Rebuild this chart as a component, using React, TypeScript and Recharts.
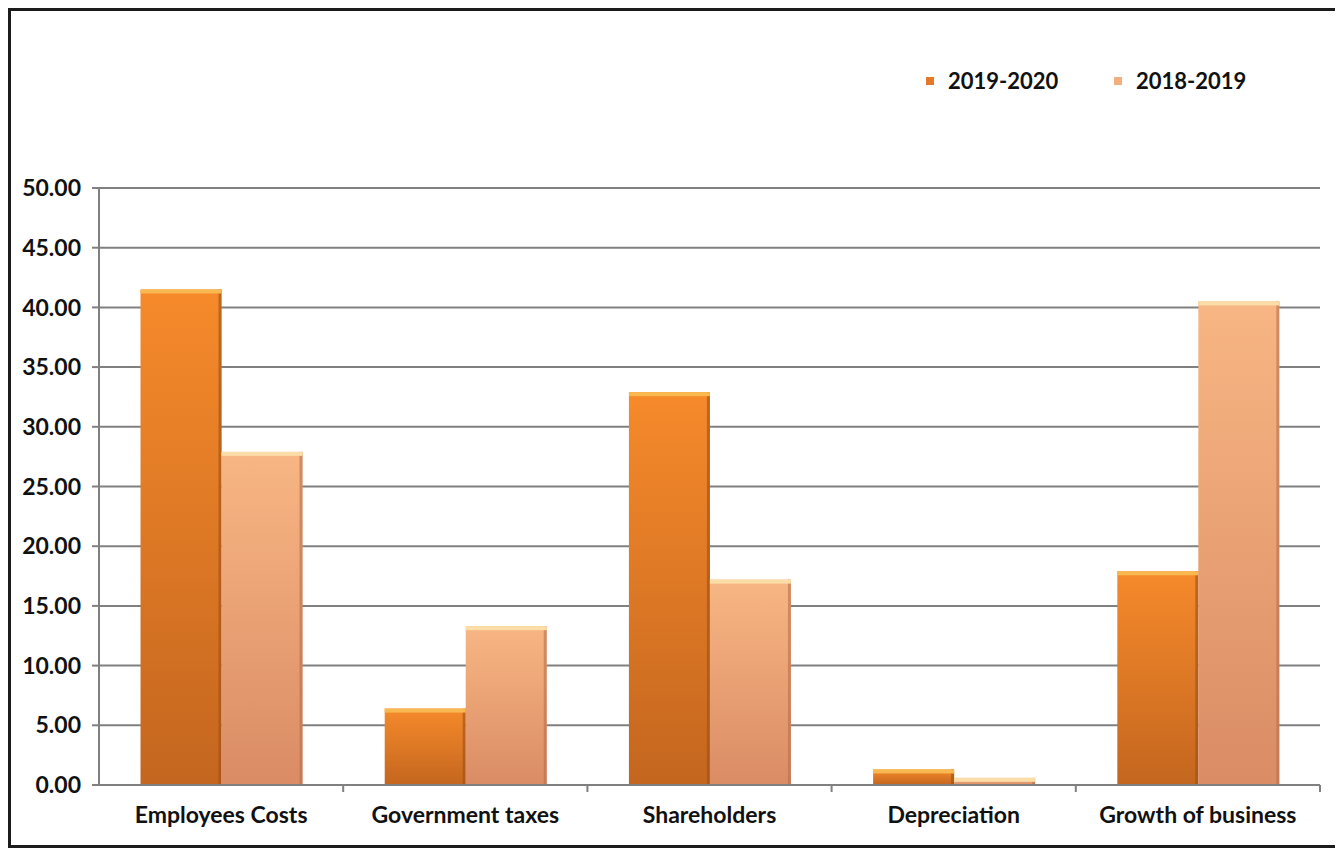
import React from "react";
import { BarChart, Bar, XAxis, YAxis, CartesianGrid, Legend } from "recharts";

const categories = ["Employees Costs", "Government taxes", "Shareholders", "Depreciation", "Growth of business"];
const values2019_2020 = [41.5, 6.4, 32.9, 1.3, 17.9];
const values2018_2019 = [27.9, 13.3, 17.2, 0.6, 40.5];
const yTicks = [0, 5, 10, 15, 20, 25, 30, 35, 40, 45, 50];

const data = categories.map((name, i) => ({
  name,
  y2019: values2019_2020[i],
  y2018: values2018_2019[i],
}));

const FONT = "Lato, 'Open Sans', sans-serif";
const AXIS = "#808080";
const TICK_GAP = 22;

function makeShape(grad: string, edge: string, top: string) {
  return (props: any) => {
    const { x, y, width, height } = props;
    if (!height || height <= 0) return <g />;
    const hl = Math.min(4, height);
    return (
      <g>
        <rect x={x} y={y} width={width} height={height} fill={`url(#${grad})`} />
        <rect x={x + width - 3} y={y} width={3} height={height} fill={edge} opacity={0.6} />
        <rect x={x} y={y} width={width} height={hl} fill={top} />
      </g>
    );
  };
}

// category label plus tick marks on the band boundaries
function CategoryTick(props: any) {
  const { x, y, payload, index } = props;
  const half = payload && payload.offset ? payload.offset : 0;
  const axisY = y - TICK_GAP;
  const last = index === categories.length - 1;
  return (
    <g>
      {half > 0 && index > 0 && (
        <line x1={x - half} x2={x - half} y1={axisY} y2={axisY + 7} stroke={AXIS} strokeWidth={2} />
      )}
      {half > 0 && last && (
        <line x1={x + half} x2={x + half} y1={axisY} y2={axisY + 7} stroke={AXIS} strokeWidth={2} />
      )}
      <text x={x} y={y} dy="0.71em" textAnchor="middle" fontFamily={FONT} fontWeight={700} fontSize={23} fill="#111">
        {payload.value}
      </text>
    </g>
  );
}

const legendItems = [
  { label: "2019-2020", color: "#E5782A" },
  { label: "2018-2019", color: "#F2AE7C" },
];

function LegendBox() {
  return (
    <div style={{ display: "flex", alignItems: "center", fontFamily: FONT, fontWeight: 700, fontSize: 22, color: "#111" }}>
      {legendItems.map((it) => (
        <div key={it.label} style={{ display: "flex", alignItems: "center", width: 188 }}>
          <span style={{ display: "inline-block", width: 8, height: 8, background: it.color, marginRight: 14 }} />
          <span>{it.label}</span>
        </div>
      ))}
    </div>
  );
}

export default function App() {
  return (
    <div style={{ width: 1330, height: 840, boxSizing: "border-box", border: "3px solid #1c1c1c", background: "#fff" }}>
      <BarChart
        width={1324}
        height={834}
        data={data}
        margin={{ top: 177, right: 15, bottom: 0, left: 0 }}
        barCategoryGap="17%"
        barGap={0}
      >
        <defs>
          <linearGradient id="g2019" x1="0" y1="0" x2="0" y2="1">
            <stop offset="0%" stopColor="#F68A2B" />
            <stop offset="100%" stopColor="#C4661F" />
          </linearGradient>
          <linearGradient id="g2018" x1="0" y1="0" x2="0" y2="1">
            <stop offset="0%" stopColor="#F8B684" />
            <stop offset="100%" stopColor="#DA8C64" />
          </linearGradient>
        </defs>
        <CartesianGrid vertical={false} stroke={AXIS} strokeWidth={2} />
        <XAxis
          dataKey="name"
          height={60}
          interval={0}
          tickLine={false}
          tickSize={0}
          tickMargin={TICK_GAP}
          axisLine={{ stroke: AXIS, strokeWidth: 2 }}
          tick={<CategoryTick />}
        />
        <YAxis
          width={88}
          domain={[0, 50]}
          ticks={yTicks}
          interval={0}
          tickFormatter={(v: number) => v.toFixed(2)}
          tickSize={7}
          tickMargin={11}
          tickLine={{ stroke: AXIS, strokeWidth: 2 }}
          axisLine={{ stroke: AXIS, strokeWidth: 2 }}
          tick={{ fontFamily: FONT, fontWeight: 700, fontSize: 23, fill: "#111" }}
        />
        <Legend
          verticalAlign="middle"
          align="center"
          content={() => <LegendBox />}
          wrapperStyle={{ position: "absolute", top: 56, left: 915, width: 400 }}
        />
        <Bar dataKey="y2019" name="2019-2020" fill="#E5782A" isAnimationActive={false}
          shape={makeShape("g2019", "#9A4E16", "#F9B850")} />
        <Bar dataKey="y2018" name="2018-2019" fill="#F2AE7C" isAnimationActive={false}
          shape={makeShape("g2018", "#B8704C", "#FBDDA8")} />
      </BarChart>
    </div>
  );
}
